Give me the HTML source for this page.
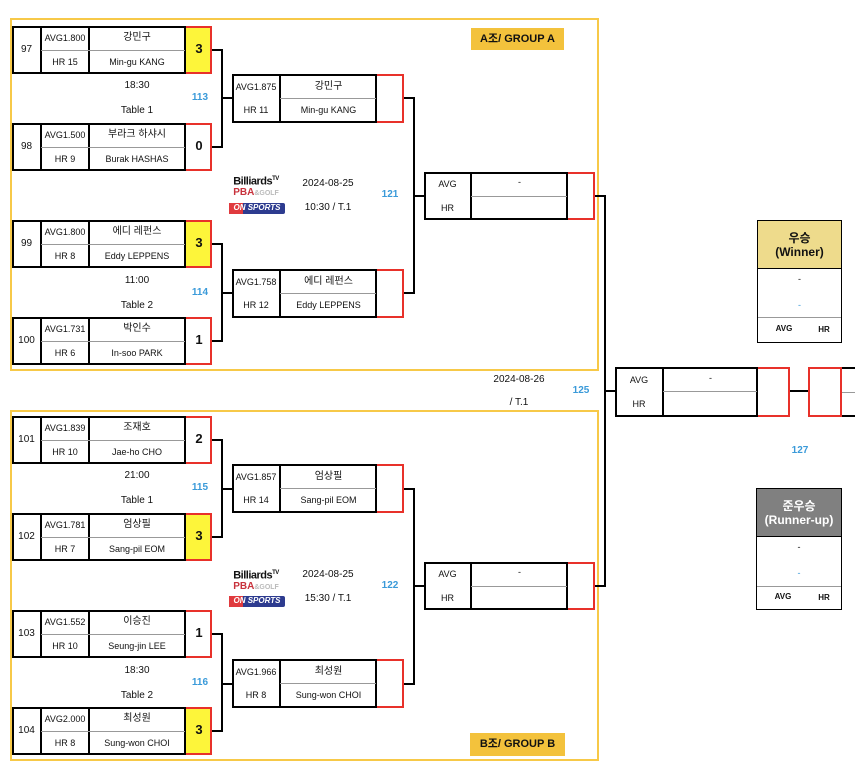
<!DOCTYPE html>
<html><head><meta charset="utf-8">
<style>
body{margin:0;background:#fff;font-family:"Liberation Sans","Noto Sans CJK KR",sans-serif;color:#111;}
#c{position:relative;width:855px;height:775px;overflow:hidden;}
.a{position:absolute;box-sizing:border-box;}
.grp{border:2px solid #f7c948;}
.f{border:2px solid #000;}
.s{border:2px solid #e8312a;border-left:none;}
.vl{background:#000;width:2px;}
.hl{background:#000;height:2px;}
.gl{background:#999;height:1px;}
.t{position:absolute;text-align:center;font-size:9px;line-height:12px;white-space:nowrap;}
.n{font-size:10px;}
.sc{font-weight:bold;font-size:13px;}
.bl{color:#3a9ad9;font-weight:bold;font-size:10px;}
.badge{background:#f3c23c;font-weight:bold;font-size:11px;text-align:center;line-height:22px;}
</style></head><body><div id="c">

<div class="a grp" style="left:10px;top:18px;width:589px;height:353px"></div>
<div class="a grp" style="left:10px;top:410px;width:589px;height:351px"></div>
<div class="a badge" style="left:471px;top:28px;width:93px;height:22px">A조/ GROUP A</div>
<div class="a badge" style="left:470px;top:733px;width:95px;height:23px">B조/ GROUP B</div>

<!-- 97 -->
<div class="a" style="left:12px;top:26px;width:200px;height:48px">
 <div class="a f" style="left:0;top:0;width:174px;height:48px"></div>
 <div class="a vl" style="left:28px;top:0;height:48px"></div>
 <div class="a vl" style="left:76px;top:0;height:48px"></div>
 <div class="a gl" style="left:29px;top:24px;width:144px"></div>
 <div class="a s" style="left:174px;top:0;width:26px;height:48px;background:#fdf53a"></div>
 <div class="t n" style="left:0;width:29px;top:18px">97</div>
 <div class="t" style="left:29px;width:48px;top:6px">AVG1.800</div>
 <div class="t" style="left:29px;width:48px;top:30px">HR 15</div>
 <div class="t n" style="left:77px;width:96px;top:6px">강민구</div>
 <div class="t" style="left:77px;width:96px;top:30px">Min-gu KANG</div>
 <div class="t sc" style="left:174px;width:26px;top:17px">3</div>
</div>
<!-- 98 -->
<div class="a" style="left:12px;top:123px;width:200px;height:48px">
 <div class="a f" style="left:0;top:0;width:174px;height:48px"></div>
 <div class="a vl" style="left:28px;top:0;height:48px"></div>
 <div class="a vl" style="left:76px;top:0;height:48px"></div>
 <div class="a gl" style="left:29px;top:24px;width:144px"></div>
 <div class="a s" style="left:174px;top:0;width:26px;height:48px"></div>
 <div class="t n" style="left:0;width:29px;top:18px">98</div>
 <div class="t" style="left:29px;width:48px;top:6px">AVG1.500</div>
 <div class="t" style="left:29px;width:48px;top:30px">HR 9</div>
 <div class="t n" style="left:77px;width:96px;top:6px">부라크 하샤시</div>
 <div class="t" style="left:77px;width:96px;top:30px">Burak HASHAS</div>
 <div class="t sc" style="left:174px;width:26px;top:17px">0</div>
</div>
<!-- 99 -->
<div class="a" style="left:12px;top:220px;width:200px;height:48px">
 <div class="a f" style="left:0;top:0;width:174px;height:48px"></div>
 <div class="a vl" style="left:28px;top:0;height:48px"></div>
 <div class="a vl" style="left:76px;top:0;height:48px"></div>
 <div class="a gl" style="left:29px;top:24px;width:144px"></div>
 <div class="a s" style="left:174px;top:0;width:26px;height:48px;background:#fdf53a"></div>
 <div class="t n" style="left:0;width:29px;top:18px">99</div>
 <div class="t" style="left:29px;width:48px;top:6px">AVG1.800</div>
 <div class="t" style="left:29px;width:48px;top:30px">HR 8</div>
 <div class="t n" style="left:77px;width:96px;top:6px">에디 레펀스</div>
 <div class="t" style="left:77px;width:96px;top:30px">Eddy LEPPENS</div>
 <div class="t sc" style="left:174px;width:26px;top:17px">3</div>
</div>
<!-- 100 -->
<div class="a" style="left:12px;top:317px;width:200px;height:48px">
 <div class="a f" style="left:0;top:0;width:174px;height:48px"></div>
 <div class="a vl" style="left:28px;top:0;height:48px"></div>
 <div class="a vl" style="left:76px;top:0;height:48px"></div>
 <div class="a gl" style="left:29px;top:24px;width:144px"></div>
 <div class="a s" style="left:174px;top:0;width:26px;height:48px"></div>
 <div class="t n" style="left:0;width:29px;top:18px">100</div>
 <div class="t" style="left:29px;width:48px;top:6px">AVG1.731</div>
 <div class="t" style="left:29px;width:48px;top:30px">HR 6</div>
 <div class="t n" style="left:77px;width:96px;top:6px">박인수</div>
 <div class="t" style="left:77px;width:96px;top:30px">In-soo PARK</div>
 <div class="t sc" style="left:174px;width:26px;top:17px">1</div>
</div>
<!-- 101 -->
<div class="a" style="left:12px;top:416px;width:200px;height:48px">
 <div class="a f" style="left:0;top:0;width:174px;height:48px"></div>
 <div class="a vl" style="left:28px;top:0;height:48px"></div>
 <div class="a vl" style="left:76px;top:0;height:48px"></div>
 <div class="a gl" style="left:29px;top:24px;width:144px"></div>
 <div class="a s" style="left:174px;top:0;width:26px;height:48px"></div>
 <div class="t n" style="left:0;width:29px;top:18px">101</div>
 <div class="t" style="left:29px;width:48px;top:6px">AVG1.839</div>
 <div class="t" style="left:29px;width:48px;top:30px">HR 10</div>
 <div class="t n" style="left:77px;width:96px;top:6px">조재호</div>
 <div class="t" style="left:77px;width:96px;top:30px">Jae-ho CHO</div>
 <div class="t sc" style="left:174px;width:26px;top:17px">2</div>
</div>
<!-- 102 -->
<div class="a" style="left:12px;top:513px;width:200px;height:48px">
 <div class="a f" style="left:0;top:0;width:174px;height:48px"></div>
 <div class="a vl" style="left:28px;top:0;height:48px"></div>
 <div class="a vl" style="left:76px;top:0;height:48px"></div>
 <div class="a gl" style="left:29px;top:24px;width:144px"></div>
 <div class="a s" style="left:174px;top:0;width:26px;height:48px;background:#fdf53a"></div>
 <div class="t n" style="left:0;width:29px;top:18px">102</div>
 <div class="t" style="left:29px;width:48px;top:6px">AVG1.781</div>
 <div class="t" style="left:29px;width:48px;top:30px">HR 7</div>
 <div class="t n" style="left:77px;width:96px;top:6px">엄상필</div>
 <div class="t" style="left:77px;width:96px;top:30px">Sang-pil EOM</div>
 <div class="t sc" style="left:174px;width:26px;top:17px">3</div>
</div>
<!-- 103 -->
<div class="a" style="left:12px;top:610px;width:200px;height:48px">
 <div class="a f" style="left:0;top:0;width:174px;height:48px"></div>
 <div class="a vl" style="left:28px;top:0;height:48px"></div>
 <div class="a vl" style="left:76px;top:0;height:48px"></div>
 <div class="a gl" style="left:29px;top:24px;width:144px"></div>
 <div class="a s" style="left:174px;top:0;width:26px;height:48px"></div>
 <div class="t n" style="left:0;width:29px;top:18px">103</div>
 <div class="t" style="left:29px;width:48px;top:6px">AVG1.552</div>
 <div class="t" style="left:29px;width:48px;top:30px">HR 10</div>
 <div class="t n" style="left:77px;width:96px;top:6px">이승진</div>
 <div class="t" style="left:77px;width:96px;top:30px">Seung-jin LEE</div>
 <div class="t sc" style="left:174px;width:26px;top:17px">1</div>
</div>
<!-- 104 -->
<div class="a" style="left:12px;top:707px;width:200px;height:48px">
 <div class="a f" style="left:0;top:0;width:174px;height:48px"></div>
 <div class="a vl" style="left:28px;top:0;height:48px"></div>
 <div class="a vl" style="left:76px;top:0;height:48px"></div>
 <div class="a gl" style="left:29px;top:24px;width:144px"></div>
 <div class="a s" style="left:174px;top:0;width:26px;height:48px;background:#fdf53a"></div>
 <div class="t n" style="left:0;width:29px;top:18px">104</div>
 <div class="t" style="left:29px;width:48px;top:6px">AVG2.000</div>
 <div class="t" style="left:29px;width:48px;top:30px">HR 8</div>
 <div class="t n" style="left:77px;width:96px;top:6px">최성원</div>
 <div class="t" style="left:77px;width:96px;top:30px">Sung-won CHOI</div>
 <div class="t sc" style="left:174px;width:26px;top:17px">3</div>
</div>

<!-- times -->
<div class="t n" style="left:100px;width:74px;top:80px">18:30</div>
<div class="t n" style="left:100px;width:74px;top:105px">Table 1</div>
<div class="t bl" style="left:185px;width:30px;top:92px">113</div>
<div class="t n" style="left:100px;width:74px;top:275px">11:00</div>
<div class="t n" style="left:100px;width:74px;top:300px">Table 2</div>
<div class="t bl" style="left:185px;width:30px;top:287px">114</div>
<div class="t n" style="left:100px;width:74px;top:470px">21:00</div>
<div class="t n" style="left:100px;width:74px;top:495px">Table 1</div>
<div class="t bl" style="left:185px;width:30px;top:482px">115</div>
<div class="t n" style="left:100px;width:74px;top:665px">18:30</div>
<div class="t n" style="left:100px;width:74px;top:690px">Table 2</div>
<div class="t bl" style="left:185px;width:30px;top:677px">116</div>

<!-- R1->R2 connectors -->
<div class="a hl" style="left:212px;top:49px;width:11px"></div>
<div class="a hl" style="left:212px;top:146px;width:11px"></div>
<div class="a vl" style="left:221px;top:49px;height:99px"></div>
<div class="a hl" style="left:221px;top:97px;width:11px"></div>
<div class="a hl" style="left:212px;top:243px;width:11px"></div>
<div class="a hl" style="left:212px;top:340px;width:11px"></div>
<div class="a vl" style="left:221px;top:243px;height:99px"></div>
<div class="a hl" style="left:221px;top:292px;width:11px"></div>
<div class="a hl" style="left:212px;top:439px;width:11px"></div>
<div class="a hl" style="left:212px;top:536px;width:11px"></div>
<div class="a vl" style="left:221px;top:439px;height:99px"></div>
<div class="a hl" style="left:221px;top:488px;width:11px"></div>
<div class="a hl" style="left:212px;top:633px;width:11px"></div>
<div class="a hl" style="left:212px;top:730px;width:11px"></div>
<div class="a vl" style="left:221px;top:633px;height:99px"></div>
<div class="a hl" style="left:221px;top:683px;width:11px"></div>

<!-- R2 -->
<div class="a" style="left:232px;top:74px;width:172px;height:49px">
 <div class="a f" style="width:145px;height:49px"></div>
 <div class="a vl" style="left:47px;height:49px"></div>
 <div class="a gl" style="left:48px;top:24px;width:96px"></div>
 <div class="a s" style="left:145px;width:27px;height:49px"></div>
 <div class="t" style="left:0;width:48px;top:7px">AVG1.875</div>
 <div class="t" style="left:0;width:48px;top:30px">HR 11</div>
 <div class="t n" style="left:48px;width:97px;top:7px">강민구</div>
 <div class="t" style="left:48px;width:97px;top:30px">Min-gu KANG</div>
</div>
<div class="a" style="left:232px;top:269px;width:172px;height:49px">
 <div class="a f" style="width:145px;height:49px"></div>
 <div class="a vl" style="left:47px;height:49px"></div>
 <div class="a gl" style="left:48px;top:24px;width:96px"></div>
 <div class="a s" style="left:145px;width:27px;height:49px"></div>
 <div class="t" style="left:0;width:48px;top:7px">AVG1.758</div>
 <div class="t" style="left:0;width:48px;top:30px">HR 12</div>
 <div class="t n" style="left:48px;width:97px;top:7px">에디 레펀스</div>
 <div class="t" style="left:48px;width:97px;top:30px">Eddy LEPPENS</div>
</div>
<div class="a" style="left:232px;top:464px;width:172px;height:49px">
 <div class="a f" style="width:145px;height:49px"></div>
 <div class="a vl" style="left:47px;height:49px"></div>
 <div class="a gl" style="left:48px;top:24px;width:96px"></div>
 <div class="a s" style="left:145px;width:27px;height:49px"></div>
 <div class="t" style="left:0;width:48px;top:7px">AVG1.857</div>
 <div class="t" style="left:0;width:48px;top:30px">HR 14</div>
 <div class="t n" style="left:48px;width:97px;top:7px">엄상필</div>
 <div class="t" style="left:48px;width:97px;top:30px">Sang-pil EOM</div>
</div>
<div class="a" style="left:232px;top:659px;width:172px;height:49px">
 <div class="a f" style="width:145px;height:49px"></div>
 <div class="a vl" style="left:47px;height:49px"></div>
 <div class="a gl" style="left:48px;top:24px;width:96px"></div>
 <div class="a s" style="left:145px;width:27px;height:49px"></div>
 <div class="t" style="left:0;width:48px;top:7px">AVG1.966</div>
 <div class="t" style="left:0;width:48px;top:30px">HR 8</div>
 <div class="t n" style="left:48px;width:97px;top:7px">최성원</div>
 <div class="t" style="left:48px;width:97px;top:30px">Sung-won CHOI</div>
</div>

<!-- R2->R3 connectors -->
<div class="a hl" style="left:404px;top:97px;width:11px"></div>
<div class="a hl" style="left:404px;top:292px;width:11px"></div>
<div class="a vl" style="left:413px;top:97px;height:197px"></div>
<div class="a hl" style="left:413px;top:195px;width:11px"></div>
<div class="a hl" style="left:404px;top:488px;width:11px"></div>
<div class="a hl" style="left:404px;top:683px;width:11px"></div>
<div class="a vl" style="left:413px;top:488px;height:197px"></div>
<div class="a hl" style="left:413px;top:585px;width:11px"></div>

<!-- logos + dates -->
<div class="t" style="left:226px;width:60px;top:173px;font-weight:bold;font-size:11px;letter-spacing:-0.5px">Billiards<sup style="font-size:6px">TV</sup></div>
<div class="t" style="left:224px;width:64px;top:187px;font-weight:bold;font-size:10px;color:#c8323c">PBA<span style="color:#bbb;font-size:7px">&amp;GOLF</span></div>
<div class="a" style="left:229px;top:203px;width:56px;height:11px;background:#2d3b8f;border-radius:2px"></div>
<div class="a" style="left:229px;top:203px;width:14px;height:11px;background:#e03a3e"></div>
<div class="t" style="left:229px;width:56px;top:202px;color:#fff;font-size:8px;font-weight:bold;font-style:italic">ON SPORTS</div>
<div class="t n" style="left:297px;width:62px;top:178px">2024-08-25</div>
<div class="t n" style="left:297px;width:62px;top:202px">10:30 / T.1</div>
<div class="t bl" style="left:375px;width:30px;top:189px">121</div>

<div class="t" style="left:226px;width:60px;top:567px;font-weight:bold;font-size:11px;letter-spacing:-0.5px">Billiards<sup style="font-size:6px">TV</sup></div>
<div class="t" style="left:224px;width:64px;top:581px;font-weight:bold;font-size:10px;color:#c8323c">PBA<span style="color:#bbb;font-size:7px">&amp;GOLF</span></div>
<div class="a" style="left:229px;top:596px;width:56px;height:11px;background:#2d3b8f;border-radius:2px"></div>
<div class="a" style="left:229px;top:596px;width:14px;height:11px;background:#e03a3e"></div>
<div class="t" style="left:229px;width:56px;top:595px;color:#fff;font-size:8px;font-weight:bold;font-style:italic">ON SPORTS</div>
<div class="t n" style="left:297px;width:62px;top:569px">2024-08-25</div>
<div class="t n" style="left:297px;width:62px;top:593px">15:30 / T.1</div>
<div class="t bl" style="left:375px;width:30px;top:580px">122</div>

<!-- R3 -->
<div class="a" style="left:424px;top:172px;width:171px;height:48px">
 <div class="a f" style="width:144px;height:48px"></div>
 <div class="a vl" style="left:46px;height:48px"></div>
 <div class="a gl" style="left:47px;top:24px;width:96px"></div>
 <div class="a s" style="left:144px;width:27px;height:48px"></div>
 <div class="t" style="left:0;width:47px;top:6px">AVG</div>
 <div class="t" style="left:0;width:47px;top:30px">HR</div>
 <div class="t" style="left:47px;width:97px;top:4px">-</div>
</div>
<div class="a" style="left:424px;top:562px;width:171px;height:48px">
 <div class="a f" style="width:144px;height:48px"></div>
 <div class="a vl" style="left:46px;height:48px"></div>
 <div class="a gl" style="left:47px;top:24px;width:96px"></div>
 <div class="a s" style="left:144px;width:27px;height:48px"></div>
 <div class="t" style="left:0;width:47px;top:6px">AVG</div>
 <div class="t" style="left:0;width:47px;top:30px">HR</div>
 <div class="t" style="left:47px;width:97px;top:4px">-</div>
</div>

<!-- R3->final -->
<div class="a hl" style="left:595px;top:195px;width:11px"></div>
<div class="a hl" style="left:595px;top:585px;width:11px"></div>
<div class="a vl" style="left:604px;top:195px;height:392px"></div>
<div class="a hl" style="left:604px;top:390px;width:11px"></div>

<div class="t n" style="left:485px;width:68px;top:374px">2024-08-26</div>
<div class="t n" style="left:485px;width:68px;top:397px">/ T.1</div>
<div class="t bl" style="left:566px;width:30px;top:385px">125</div>

<!-- Final -->
<div class="a" style="left:615px;top:367px;width:175px;height:50px">
 <div class="a f" style="width:143px;height:50px"></div>
 <div class="a vl" style="left:47px;height:50px"></div>
 <div class="a gl" style="left:48px;top:24px;width:94px"></div>
 <div class="a s" style="left:143px;width:32px;height:50px"></div>
 <div class="t" style="left:0;width:48px;top:7px">AVG</div>
 <div class="t" style="left:0;width:48px;top:31px">HR</div>
 <div class="t" style="left:48px;width:95px;top:5px">-</div>
</div>
<div class="a hl" style="left:790px;top:390px;width:18px"></div>
<div class="a" style="left:808px;top:367px;width:34px;height:50px;border:2px solid #e8312a"></div>
<div class="a f" style="left:842px;top:367px;width:30px;height:50px;border-left:none"></div>
<div class="a gl" style="left:842px;top:392px;width:13px"></div>
<div class="t bl" style="left:785px;width:30px;top:445px">127</div>

<!-- Winner -->
<div class="a" style="left:757px;top:220px;width:85px;height:123px;border:1px solid #000"></div>
<div class="a" style="left:758px;top:221px;width:83px;height:48px;background:#eedb8c;border-bottom:1px solid #000"></div>
<div class="t" style="left:757px;width:85px;top:231px;font-size:12px;line-height:14px;font-weight:bold">우승<br>(Winner)</div>
<div class="t" style="left:757px;width:85px;top:273px">-</div>
<div class="t" style="left:757px;width:85px;top:299px;color:#3a9ad9">-</div>
<div class="a gl" style="left:758px;top:317px;width:83px"></div>
<div class="t" style="left:772px;width:24px;top:323px;font-weight:bold;font-size:8px">AVG</div>
<div class="t" style="left:814px;width:20px;top:324px;font-weight:bold;font-size:8px">HR</div>

<!-- Runner-up -->
<div class="a" style="left:756px;top:488px;width:86px;height:122px;border:1px solid #000"></div>
<div class="a" style="left:757px;top:489px;width:84px;height:48px;background:#808080;border-bottom:1px solid #000"></div>
<div class="t" style="left:756px;width:86px;top:499px;font-size:12px;line-height:14px;color:#fff;font-weight:bold">준우승<br>(Runner-up)</div>
<div class="t" style="left:756px;width:86px;top:541px">-</div>
<div class="t" style="left:756px;width:86px;top:567px;color:#3a9ad9">-</div>
<div class="a gl" style="left:757px;top:586px;width:84px"></div>
<div class="t" style="left:771px;width:24px;top:591px;font-weight:bold;font-size:8px">AVG</div>
<div class="t" style="left:814px;width:20px;top:592px;font-weight:bold;font-size:8px">HR</div>

</div></body></html>
